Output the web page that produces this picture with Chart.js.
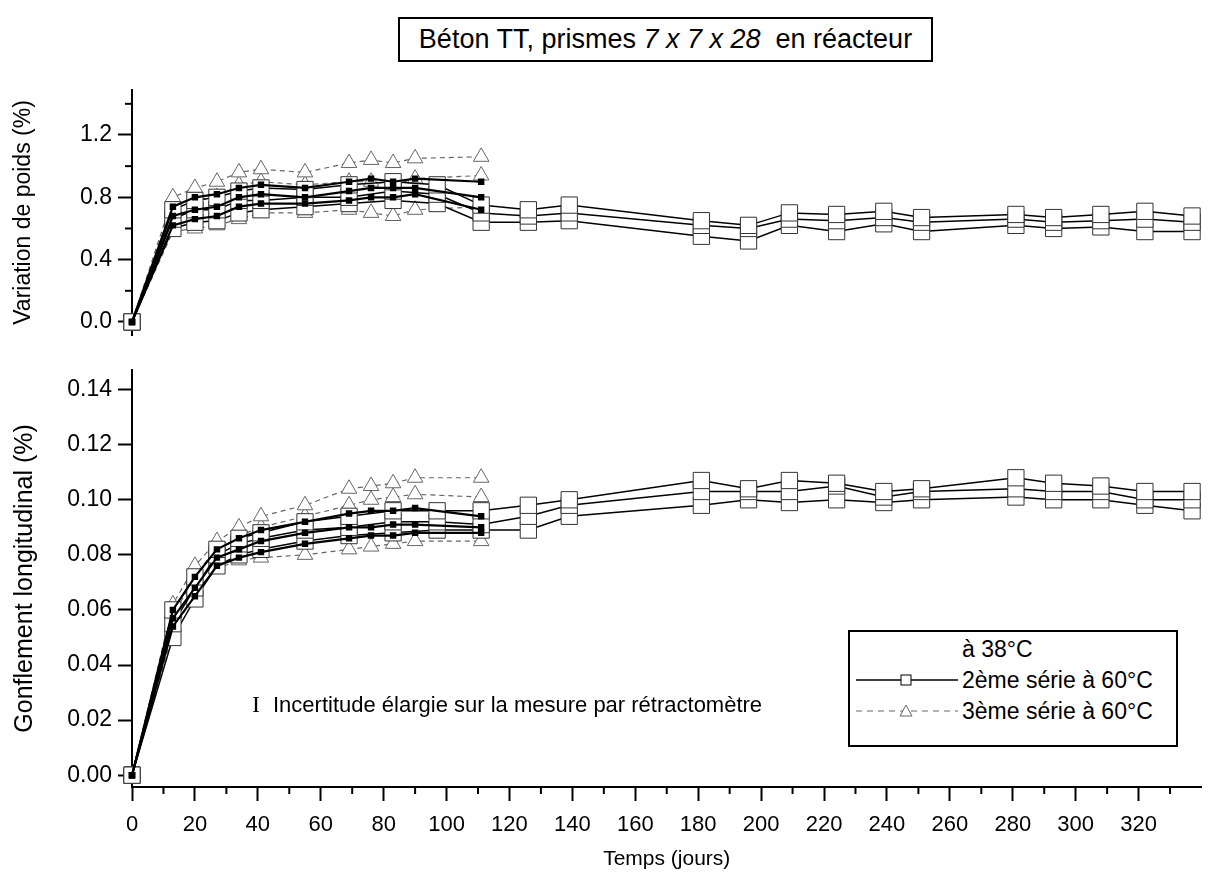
<!DOCTYPE html>
<html>
<head>
<meta charset="utf-8">
<script src="https://cdn.jsdelivr.net/npm/chart.js"></script>
<style>
  body { margin: 0; background: #fff; width: 1214px; height: 878px; position: relative; overflow: hidden;
         font-family: "Liberation Sans", Arial, sans-serif; color: #000; }
  #chartTop { position: absolute; left: 0; top: 70px; }
  #chartBot { position: absolute; left: 0; top: 350px; }
  .titre { position: absolute; left: 398px; top: 17px; width: 531px; height: 41px; border: 2px solid #000;
           font-size: 27px; line-height: 41px; text-align: center; white-space: pre; background: #fff; }
  .note { position: absolute; left: 252px; top: 691px; font-size: 22px; white-space: nowrap; }
  .note .bar { font-family: "Liberation Serif", "DejaVu Serif", serif; font-size: 24px; margin-right: 13px; }
  .legende { position: absolute; left: 848px; top: 630px; width: 326px; height: 113px; border: 2px solid #000; background: #fff; }
  .legende .row { position: absolute; left: 0; height: 30px; width: 326px; font-size: 23px; line-height: 30px; }
  .legende svg { position: absolute; left: 6px; top: 5px; }
  .legende span { position: absolute; left: 112px; }
</style>
</head>
<body>
<div class="titre">Béton TT, prismes <i>7 x 7 x 28</i>  en réacteur</div>
<canvas id="chartTop" width="1214" height="285"></canvas>
<canvas id="chartBot" width="1214" height="528"></canvas>
<div class="note"><span class="bar">I</span>Incertitude élargie sur la mesure par rétractomètre</div>
<div class="legende">
  <div class="row" style="top:2px"><span>à 38°C</span></div>
  <div class="row" style="top:33px">
    <svg width="102" height="20"><line x1="0" y1="10" x2="102" y2="10" stroke="#000" stroke-width="1.5"/>
      <rect x="45" y="5" width="10" height="10" fill="#fff" stroke="#000" stroke-width="1"/></svg>
    <span>2ème série à 60°C</span></div>
  <div class="row" style="top:64px">
    <svg width="102" height="20"><line x1="0" y1="10" x2="102" y2="10" stroke="#666" stroke-width="1.2" stroke-dasharray="6 5"/>
      <polygon points="50,4 56,15 44,15" fill="#fff" stroke="#666" stroke-width="1"/></svg>
    <span>3ème série à 60°C</span></div>
</div>
<script>
// ---- data ----
const joursCourts = [0, 13, 20, 27, 34, 41, 55, 69, 76, 83, 90, 111];
const joursSerie2 = [0, 13, 20, 27, 34, 41, 55, 69, 83, 97, 111, 126, 139, 181, 196, 209, 224, 239, 251, 281, 293, 308, 322, 337];

// variation de poids (%)
const poids38A = [0, 0.74, 0.80, 0.82, 0.86, 0.88, 0.86, 0.90, 0.92, 0.90, 0.92, 0.90];
const poids38B = [0, 0.68, 0.72, 0.74, 0.80, 0.82, 0.80, 0.84, 0.86, 0.86, 0.86, 0.80];
const poids38C = [0, 0.62, 0.66, 0.68, 0.74, 0.76, 0.76, 0.78, 0.80, 0.80, 0.82, 0.72];
const poidsS2A = [0, 0.72, 0.78, 0.80, 0.84, 0.86, 0.85, 0.88, 0.90, 0.88, 0.75, 0.72, 0.75, 0.65, 0.62, 0.70, 0.69, 0.71, 0.67, 0.69, 0.67, 0.69, 0.71, 0.68];
const poidsS2B = [0, 0.66, 0.72, 0.72, 0.78, 0.78, 0.80, 0.80, 0.84, 0.82, 0.70, 0.68, 0.70, 0.62, 0.60, 0.66, 0.65, 0.67, 0.64, 0.66, 0.64, 0.65, 0.66, 0.64];
const poidsS2C = [0, 0.60, 0.64, 0.65, 0.70, 0.72, 0.74, 0.76, 0.78, 0.76, 0.64, 0.64, 0.65, 0.55, 0.52, 0.62, 0.58, 0.63, 0.58, 0.62, 0.60, 0.61, 0.58, 0.58];
const poidsS3A = [0, 0.80, 0.86, 0.90, 0.96, 0.98, 0.96, 1.02, 1.04, 1.02, 1.05, 1.06];
const poidsS3B = [0, 0.76, 0.78, 0.80, 0.88, 0.90, 0.88, 0.90, 0.90, 0.88, 0.92, 0.94];
const poidsS3C = [0, 0.58, 0.60, 0.62, 0.66, 0.70, 0.70, 0.72, 0.70, 0.68, 0.72, 0.74];

// gonflement longitudinal (%)
const gonf38A = [0, 0.060, 0.072, 0.082, 0.086, 0.089, 0.092, 0.095, 0.096, 0.096, 0.097, 0.094];
const gonf38B = [0, 0.057, 0.068, 0.079, 0.082, 0.085, 0.088, 0.090, 0.090, 0.091, 0.091, 0.090];
const gonf38C = [0, 0.054, 0.065, 0.076, 0.079, 0.081, 0.084, 0.086, 0.087, 0.087, 0.088, 0.088];
const gonfS2A = [0, 0.060, 0.072, 0.082, 0.086, 0.088, 0.092, 0.094, 0.096, 0.096, 0.096, 0.098, 0.100, 0.107, 0.104, 0.107, 0.106, 0.103, 0.104, 0.108, 0.106, 0.105, 0.103, 0.103];
const gonfS2B = [0, 0.055, 0.068, 0.080, 0.084, 0.086, 0.089, 0.090, 0.092, 0.092, 0.091, 0.094, 0.098, 0.103, 0.103, 0.103, 0.105, 0.101, 0.103, 0.104, 0.103, 0.103, 0.100, 0.100];
const gonfS2C = [0, 0.050, 0.064, 0.076, 0.080, 0.082, 0.085, 0.087, 0.088, 0.089, 0.089, 0.089, 0.094, 0.098, 0.100, 0.099, 0.100, 0.099, 0.100, 0.101, 0.100, 0.100, 0.098, 0.096];
const gonfS3A = [0, 0.062, 0.076, 0.085, 0.090, 0.094, 0.098, 0.104, 0.105, 0.106, 0.108, 0.108];
const gonfS3B = [0, 0.058, 0.072, 0.083, 0.087, 0.090, 0.094, 0.098, 0.100, 0.101, 0.102, 0.101];
const gonfS3C = [0, 0.052, 0.066, 0.075, 0.078, 0.079, 0.080, 0.082, 0.083, 0.084, 0.085, 0.085];

// ticks
const xTicks = [0, 20, 40, 60, 80, 100, 120, 140, 160, 180, 200, 220, 240, 260, 280, 300, 320];
const xMinor = [10, 30, 50, 70, 90, 110, 130, 150, 170, 190, 210, 230, 250, 270, 290, 310, 330];
const yTicksPoids = [0, 0.4, 0.8, 1.2];
const yMinorPoids = [0.2, 0.6, 1.0, 1.4];
const yTicksGonf = [0, 0.02, 0.04, 0.06, 0.08, 0.10, 0.12, 0.14];

Chart.defaults.font.family = '"Liberation Sans", Arial, sans-serif';
Chart.defaults.color = '#000';

function pts(days, vals) {
  return days.map((d, i) => ({ x: d, y: vals[i] }));
}

// three kinds of curves
function s38(days, vals) {
  return { data: pts(days, vals), borderColor: '#000', borderWidth: 2.2, pointStyle: 'rect',
           pointRadius: 3, pointBackgroundColor: '#000', pointBorderColor: '#000', clip: false };
}
function s2(days, vals) {
  return { data: pts(days, vals), borderColor: '#000', borderWidth: 1.5, pointStyle: 'rect',
           pointRadius: 11.5, pointBackgroundColor: '#fff', pointBorderColor: '#333', pointBorderWidth: 1, clip: false };
}
function s3(days, vals) {
  return { data: pts(days, vals), borderColor: '#666', borderWidth: 1.2, borderDash: [5, 4], pointStyle: 'triangle',
           pointRadius: 9, pointBackgroundColor: '#fff', pointBorderColor: '#666', pointBorderWidth: 1, clip: false };
}

const minorTicks = {
  id: 'minorTicks',
  afterDraw(chart, args, opts) {
    const ctx = chart.ctx;
    const area = chart.chartArea;
    ctx.save();
    ctx.strokeStyle = '#000';
    ctx.lineWidth = 2;
    (opts.x || []).forEach(v => {
      const px = chart.scales.x.getPixelForValue(v);
      ctx.beginPath(); ctx.moveTo(px, area.bottom); ctx.lineTo(px, area.bottom + 7); ctx.stroke();
    });
    (opts.y || []).forEach(v => {
      const py = chart.scales.y.getPixelForValue(v);
      ctx.beginPath(); ctx.moveTo(area.left - 7, py); ctx.lineTo(area.left, py); ctx.stroke();
    });
    ctx.restore();
  }
};

function yAxis(min, max, ticks, decimals, title, titleSize) {
  return {
    type: 'linear', min: min, max: max,
    afterBuildTicks: s => { s.ticks = ticks.map(v => ({ value: v })); },
    afterFit: s => { s.width = 132; },
    border: { display: true, color: '#000', width: 2 },
    grid: { drawOnChartArea: false, drawTicks: true, tickLength: 14, tickColor: '#000', tickWidth: 2 },
    ticks: { font: { size: 23 }, padding: 6, callback: v => Number(v).toFixed(decimals) },
    title: { display: true, text: title, font: { size: titleSize }, padding: { top: 10, bottom: 0 } }
  };
}

new Chart(document.getElementById('chartTop'), {
  type: 'line',
  data: {
    datasets: [
      s38(joursCourts, poids38A), s38(joursCourts, poids38B), s38(joursCourts, poids38C),
      s2(joursSerie2, poidsS2A), s2(joursSerie2, poidsS2B), s2(joursSerie2, poidsS2C),
      s3(joursCourts, poidsS3A), s3(joursCourts, poidsS3B), s3(joursCourts, poidsS3C)
    ]
  },
  options: {
    responsive: false, animation: false,
    layout: { padding: { top: 15, bottom: 10, left: 0, right: 0 } },
    plugins: { legend: { display: false }, tooltip: { enabled: false }, minorTicks: { y: yMinorPoids } },
    scales: {
      x: { type: 'linear', min: 0, max: 340, display: false },
      y: yAxis(-0.085, 1.49, yTicksPoids, 1, 'Variation de poids (%)', 23)
    }
  },
  plugins: [minorTicks]
});

new Chart(document.getElementById('chartBot'), {
  type: 'line',
  data: {
    datasets: [
      s38(joursCourts, gonf38A), s38(joursCourts, gonf38B), s38(joursCourts, gonf38C),
      s2(joursSerie2, gonfS2A), s2(joursSerie2, gonfS2B), s2(joursSerie2, gonfS2C),
      s3(joursCourts, gonfS3A), s3(joursCourts, gonfS3B), s3(joursCourts, gonfS3C)
    ]
  },
  options: {
    responsive: false, animation: false,
    layout: { padding: { top: 15, bottom: 0, left: 0, right: 0 } },
    plugins: { legend: { display: false }, tooltip: { enabled: false }, minorTicks: { x: xMinor } },
    scales: {
      x: {
        type: 'linear', min: 0, max: 340,
        afterBuildTicks: s => { s.ticks = xTicks.map(v => ({ value: v })); },
        afterFit: s => { s.height = 91; },
        border: { display: true, color: '#000', width: 2 },
        grid: { drawOnChartArea: false, drawTicks: true, tickLength: 14, tickColor: '#000', tickWidth: 2 },
        ticks: { font: { size: 22 }, padding: 11, maxRotation: 0, autoSkip: false },
        title: { display: true, text: 'Temps (jours)', font: { size: 21 }, padding: { top: 4, bottom: 6 } }
      },
      y: yAxis(-0.0043, 0.1472, yTicksGonf, 2, 'Gonflement longitudinal (%)', 25)
    }
  },
  plugins: [minorTicks]
});
</script>
</body>
</html>
